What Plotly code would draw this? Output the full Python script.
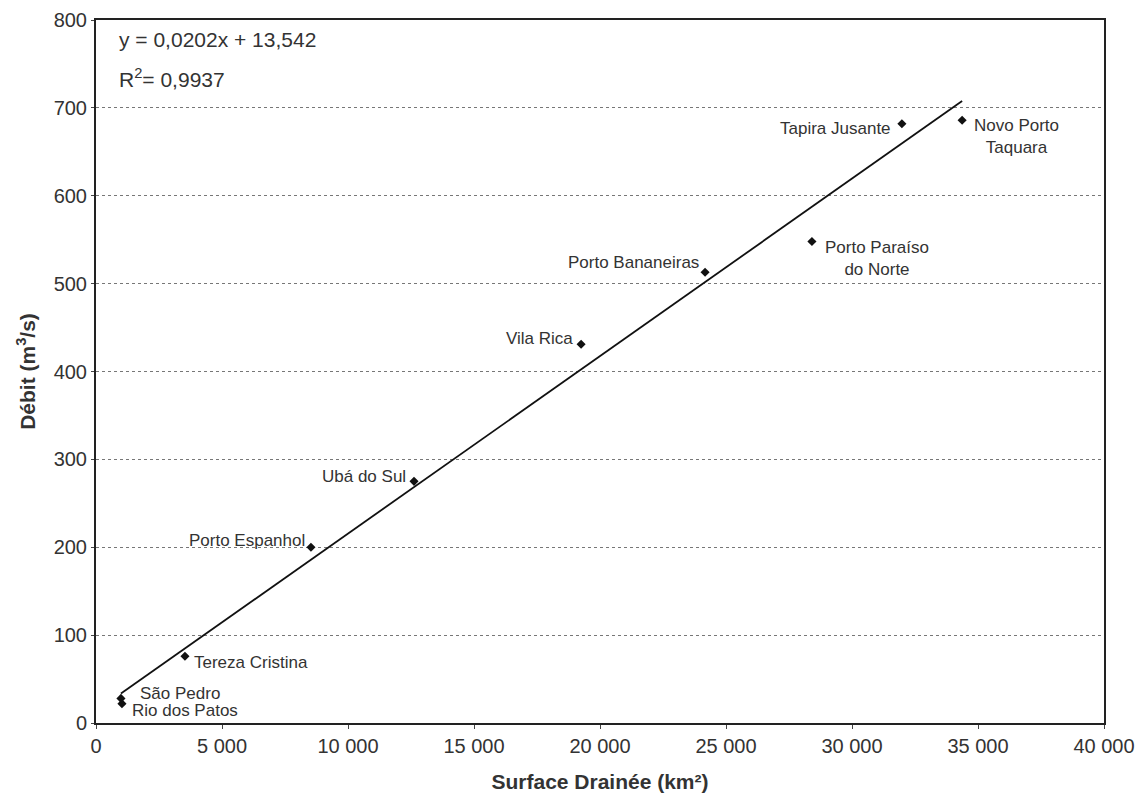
import plotly.graph_objects as go

stations = ["São Pedro", "Rio dos Patos", "Tereza Cristina", "Porto Espanhol", "Ubá do Sul",
            "Vila Rica", "Porto Bananeiras", "Porto Paraíso<br>do Norte", "Tapira Jusante",
            "Novo Porto<br>Taquara"]
surface = [990, 1030, 3530, 8530, 12620, 19250, 24170, 28410, 31980, 34370]
debit = [28, 22, 76, 200, 275, 431, 513, 548, 682, 686]

slope = 0.0202
intercept = 13.542
equation = "y = 0,0202x + 13,542"
r2 = "0,9937"

x_ticks = [0, 5000, 10000, 15000, 20000, 25000, 30000, 35000, 40000]
y_ticks = [0, 100, 200, 300, 400, 500, 600, 700, 800]

# label placement: (xshift, yshift, xanchor)
label_pos = [(17, 5, "left"), (8, -7, "left"), (7, -6, "left"), (-4, 7, "right"),
             (-6, 5, "right"), (-6, 6, "right"), (-4, 10, "right"), (11, -17, "left"),
             (-9, -5, "right"), (10, -16, "left")]

FONT = "Liberation Sans, Arial, sans-serif"
TXT = "#333333"

fig = go.Figure()
xs = [min(surface), max(surface)]
fig.add_trace(go.Scatter(x=xs, y=[slope * v + intercept for v in xs], mode="lines",
                         line=dict(color="#111111", width=1.8), hoverinfo="skip", showlegend=False))
fig.add_trace(go.Scatter(x=surface, y=debit, mode="markers",
                         marker=dict(symbol="diamond", size=7, color="#111111"),
                         showlegend=False))

for name, xv, yv, (dx, dy, anc) in zip(stations, surface, debit, label_pos):
    fig.add_annotation(x=xv, y=yv, text=name, showarrow=False, xshift=dx, yshift=dy,
                       xanchor=anc, yanchor="middle", align="center",
                       font=dict(family=FONT, size=17, color=TXT))

fig.add_annotation(xref="paper", yref="paper", x=0.0208, y=0.9716, xanchor="left", yanchor="middle",
                   text=equation, showarrow=False,
                   font=dict(family=FONT, size=21, color=TXT))
fig.add_annotation(xref="paper", yref="paper", x=0.0208, y=0.9175, xanchor="left", yanchor="middle",
                   text=f"R<sup>2</sup>= {r2}", showarrow=False,
                   font=dict(family=FONT, size=21, color=TXT))

fig.update_layout(
    width=1147, height=794,
    margin=dict(l=88, r=51, t=12, b=79),
    paper_bgcolor="white", plot_bgcolor="white",
    separators=", ",
    font=dict(family=FONT, size=20, color=TXT),
    xaxis=dict(range=[0, 40000], tickvals=x_ticks, tickformat=",", separatethousands=True,
               showgrid=False, zeroline=False, showline=True, linecolor="#222", linewidth=2,
               mirror=True, ticks="outside", ticklen=4, tickcolor="#444", automargin=False,
               tickfont=dict(size=20, color=TXT),
               title=dict(text="<b>Surface Drainée (km²)</b>", font=dict(size=21, color=TXT), standoff=18)),
    yaxis=dict(range=[0, 800], tickvals=y_ticks,
               showgrid=True, gridcolor="#777", griddash="dot", gridwidth=1,
               zeroline=False, showline=True, linecolor="#222", linewidth=2,
               mirror=True, ticks="outside", ticklen=3, tickcolor="#444", automargin=False,
               tickfont=dict(size=20, color=TXT),
               title=dict(text="<b>Débit (m<sup>3</sup>/s)</b>", font=dict(size=21, color=TXT), standoff=12)),
)

fig.write_html("out.html")
